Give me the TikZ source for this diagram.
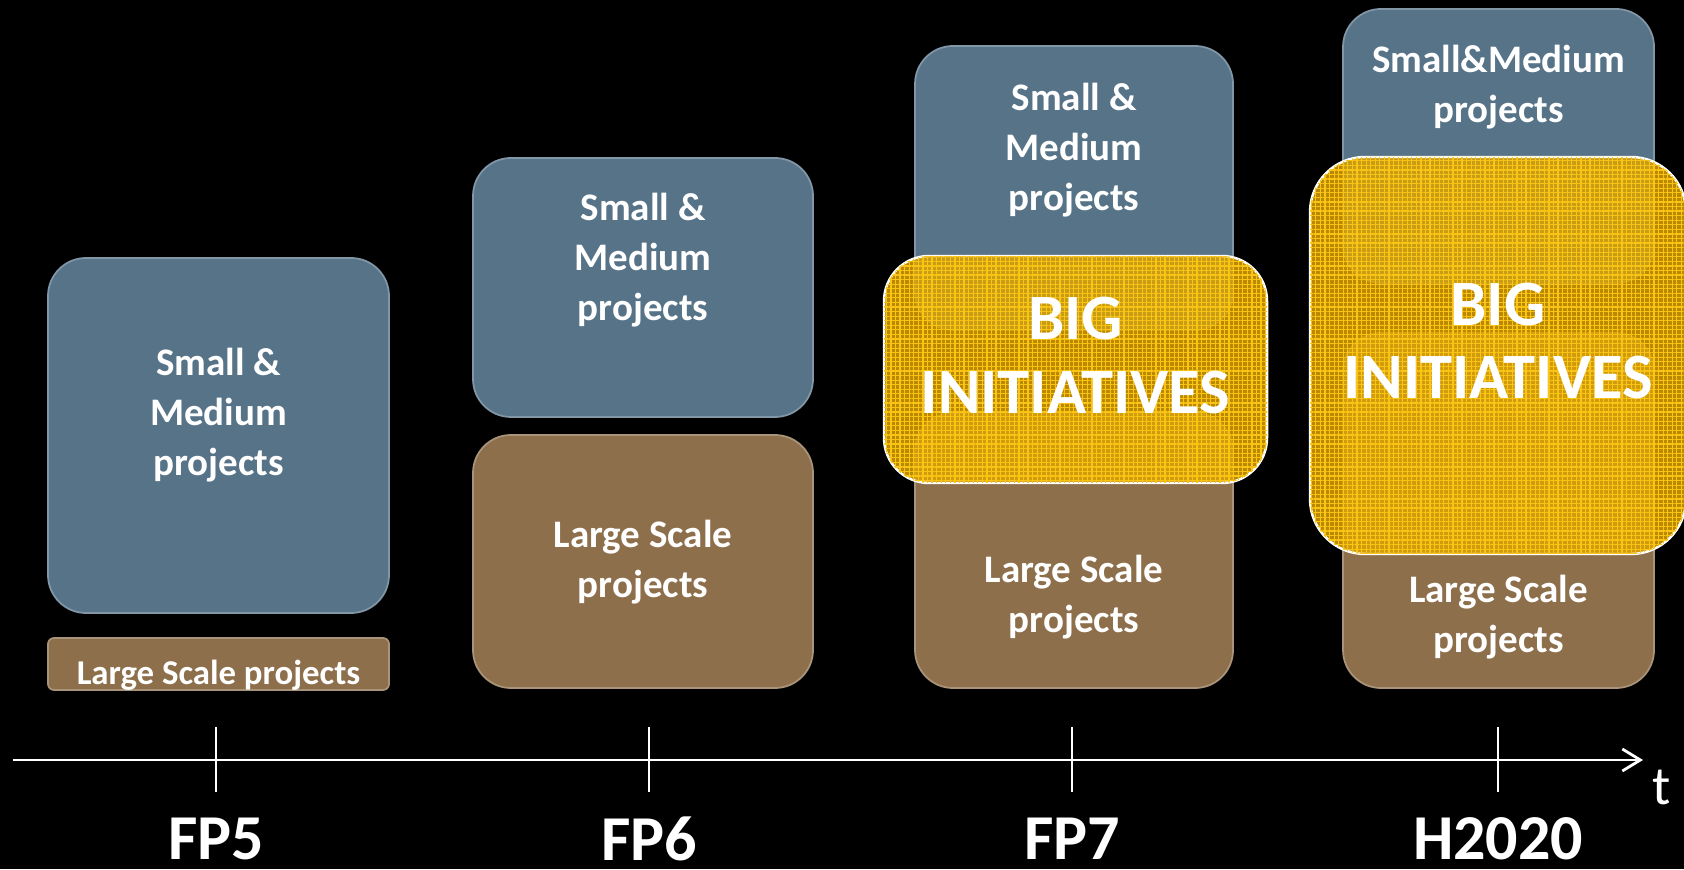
\documentclass[tikz,border=0pt]{standalone}
\usepackage{fontspec}
\setmainfont{Carlito}
\usetikzlibrary{arrows.meta,patterns.meta}

\definecolor{smblue}{RGB}{87,115,136}
\definecolor{lsbrown}{RGB}{141,111,76}
\definecolor{biggold}{RGB}{222,164,0}
\definecolor{bighatch}{RGB}{250,196,20}

\tikzset{
  smbox/.style={draw=smblue!75!white, line width=0.5pt, fill=smblue, rounded corners=0.38cm, inner sep=0pt},
  lsbox/.style={draw=lsbrown!75!white, line width=0.5pt, fill=lsbrown, rounded corners=0.38cm, inner sep=0pt},
  bigbox/.style={draw=white, line width=0.7pt, fill=biggold, fill opacity=0.84, rounded corners=0.45cm, inner sep=0pt,
    postaction={pattern={Hatch[distance=1.3pt, angle=0, line width=0.35pt]}, pattern color=bighatch, fill opacity=0.45}},
  boxtext/.style={text=white, font=\bfseries\fontsize{11.1}{14.2}\selectfont, align=center},
  bigtext/.style={text=white, font=\bfseries\fontsize{18.4}{20.8}\selectfont, align=center},
  fplabel/.style={text=white, inner sep=0pt, font=\bfseries\fontsize{18.2}{22}\selectfont},
  fptick/.style={white, line width=0.5pt}
}

\begin{document}
\begin{tikzpicture}
    %%%%% BACKGROUND %%%%%
    \fill[black] (0, 0) rectangle (16.84, 8.69);
    \useasboundingbox (0, 0) rectangle (16.84, 8.69);

    %%%%% FP5 %%%%%
    \node[smbox, minimum width=3.41cm, minimum height=3.55cm] (sm5) at (2.185, 4.335) {};
    \node[lsbox, rounded corners=0.06cm, minimum width=3.41cm, minimum height=0.52cm] (ls5) at (2.185, 2.05) {};
    \node[boxtext] (sm5txt) at (2.185, 4.54) {Small \&\\Medium\\projects};
    \node[boxtext, font=\bfseries\fontsize{9.9}{11}\selectfont] (ls5txt) at (2.185, 1.94) {Large Scale projects};

    %%%%% FP6 %%%%%
    \node[smbox, minimum width=3.40cm, minimum height=2.59cm] (sm6) at (6.43, 5.815) {};
    \node[lsbox, minimum width=3.40cm, minimum height=2.53cm] (ls6) at (6.43, 3.075) {};
    \node[boxtext] (sm6txt) at (6.43, 6.09) {Small \&\\Medium\\projects};
    \node[boxtext] (ls6txt) at (6.43, 3.07) {Large Scale\\projects};

    %%%%% FP7 %%%%%
    \node[smbox, minimum width=3.18cm, minimum height=2.84cm] (sm7) at (10.74, 6.81) {};
    \node[lsbox, minimum width=3.18cm, minimum height=2.75cm] (ls7) at (10.74, 3.185) {};
    \node[boxtext] (sm7txt) at (10.74, 7.185) {Small \&\\Medium\\projects};
    \node[boxtext] (ls7txt) at (10.74, 2.72) {Large Scale\\projects};
    \node[bigbox, minimum width=3.83cm, minimum height=2.27cm] (big7) at (10.755, 4.995) {};
    \node[bigtext] (big7txt) at (10.755, 5.135) {BIG\\INITIATIVES};

    %%%%% H2020 %%%%%
    \node[smbox, minimum width=3.11cm, minimum height=2.74cm] (sm8) at (14.985, 7.23) {};
    \node[lsbox, minimum width=3.11cm, minimum height=3.55cm] (ls8) at (14.985, 3.585) {};
    \node[boxtext] (sm8txt) at (14.985, 7.82) {Small\&Medium\\projects};
    \node[boxtext] (ls8txt) at (14.985, 2.52) {Large Scale\\projects};
    \node[bigbox, rounded corners=0.55cm, minimum width=3.76cm, minimum height=3.97cm] (big8) at (14.98, 5.135) {};
    \node[bigtext] (big8txt) at (14.98, 5.28) {BIG\\INITIATIVES};

    %%%%% TIME AXIS %%%%%
    \coordinate (tstart) at (0.13, 1.09);
    \coordinate (tend) at (16.43, 1.09);
    \draw[white, line width=0.8pt, -{Straight Barb[length=0.18cm, width=0.22cm]}] (tstart) -- (tend);
    \node[text=white, font=\fontsize{15.5}{18}\selectfont] (tlbl) at (16.62, 0.82) {t};

    \foreach \x/\fp in {2.16/FP5, 6.49/FP6, 10.72/FP7, 14.98/H2020} {
        \draw[fptick] (\x, 1.42) -- (\x, 0.77);
        \node[fplabel] (lbl\fp) at (\x, 0.30) {\fp};
    }
\end{tikzpicture}
\end{document}
